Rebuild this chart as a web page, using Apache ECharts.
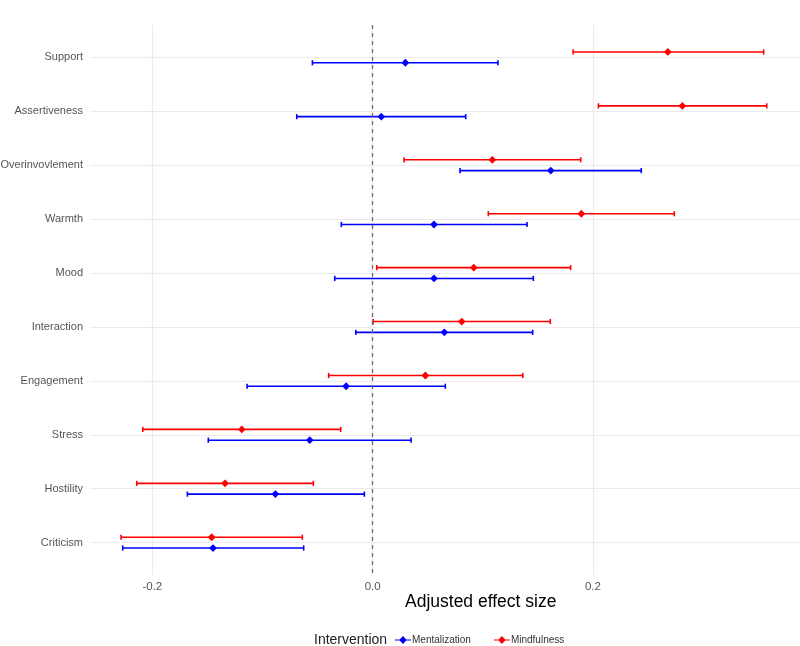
<!DOCTYPE html>
<html>
<head>
<meta charset="utf-8">
<script src="https://cdn.jsdelivr.net/npm/echarts@6/dist/echarts.min.js"></script>
<style>html,body{margin:0;padding:0;background:#fff;}#chart{width:800px;height:646px;}</style>
</head>
<body>
<div id="chart"></div>
<script>
// Outcomes, top to bottom
const categories = ['Support','Assertiveness','Overinvovlement','Warmth','Mood','Interaction','Engagement','Stress','Hostility','Criticism'];
// Mindfulness: lower, estimate, upper
const mindLower = [0.182, 0.205, 0.0285, 0.105, 0.0037, 0.0004, -0.0399, -0.2087, -0.2142, -0.2284];
const mindEst   = [0.268, 0.2812, 0.1087, 0.1895, 0.0918, 0.0809, 0.0479, -0.1188, -0.134, -0.1461];
const mindUpper = [0.355, 0.3578, 0.1889, 0.2739, 0.1798, 0.1613, 0.1363, -0.029, -0.0538, -0.0638];
// Mentalization: lower, estimate, upper
const mentLower = [-0.0547, -0.0689, 0.0793, -0.0284, -0.0344, -0.0153, -0.114, -0.1492, -0.1682, -0.2269];
const mentEst   = [0.0297, 0.0079, 0.1617, 0.0557, 0.0557, 0.0651, -0.0241, -0.0571, -0.0883, -0.1449];
const mentUpper = [0.1138, 0.0845, 0.2439, 0.1402, 0.1459, 0.1453, 0.066, 0.0349, -0.0075, -0.0626];
const xTicks = [-0.2, 0.0, 0.2];

const chart = echarts.init(document.getElementById('chart'));

function build(lo, est, hi) {
  return categories.map((c, i) => [i, lo[i], est[i], hi[i]]);
}
function makeRender(color, dodge) {
  return function (params, api) {
    const y = api.value(0) + dodge;
    const pLo = api.coord([api.value(1), y]);
    const pE = api.coord([api.value(2), y]);
    const pHi = api.coord([api.value(3), y]);
    const cap = 2.6, r = 3.9;
    const ls = { stroke: color, lineWidth: 1.6 };
    return {
      type: 'group',
      children: [
        { type: 'line', shape: { x1: pLo[0], y1: pLo[1], x2: pHi[0], y2: pHi[1] }, style: ls },
        { type: 'line', shape: { x1: pLo[0], y1: pLo[1] - cap, x2: pLo[0], y2: pLo[1] + cap }, style: ls },
        { type: 'line', shape: { x1: pHi[0], y1: pHi[1] - cap, x2: pHi[0], y2: pHi[1] + cap }, style: ls },
        { type: 'polygon', shape: { points: [[pE[0], pE[1] - r], [pE[0] + r, pE[1]], [pE[0], pE[1] + r], [pE[0] - r, pE[1]]] }, style: { fill: color } }
      ]
    };
  };
}
const iconPath = 'path://M0,4.3H5.3L9,0.6L12.7,4.3H18V5.7H12.7L9,9.4L5.3,5.7H0Z';

const option = {
  backgroundColor: '#ffffff',
  animation: false,
  grid: { left: 90, right: 0, top: 25, bottom: 71, containLabel: false, outerBoundsMode: 'none' },
  xAxis: {
    type: 'value',
    min: -0.2566,
    max: 0.388,
    minInterval: 0.2,
    maxInterval: 0.2,
    axisLine: { show: false },
    axisTick: { show: false },
    axisLabel: {
      color: '#555', fontSize: 11.5, margin: 6, fontFamily: 'Liberation Sans, Arial, sans-serif',
      showMinLabel: false, showMaxLabel: false,
      formatter: v => xTicks.some(t => Math.abs(t - v) < 1e-6) ? v.toFixed(1) : ''
    },
    splitLine: { show: true, showMinLine: false, showMaxLine: false, lineStyle: { color: '#ebebeb', width: 1.2 } }
  },
  yAxis: {
    type: 'value',
    inverse: true,
    min: -0.6,
    max: 9.6,
    minInterval: 1,
    maxInterval: 1,
    axisLine: { show: false },
    axisTick: { show: false },
    axisLabel: {
      color: '#555', fontSize: 11, margin: 7, fontFamily: 'Liberation Sans, Arial, sans-serif',
      showMinLabel: false, showMaxLabel: false,
      formatter: v => {
        const k = Math.round(v);
        return Math.abs(k - v) < 1e-6 && categories[k] ? categories[k] : '';
      }
    },
    splitLine: { show: true, showMinLine: false, showMaxLine: false, lineStyle: { color: '#ebebeb', width: 1.2 } }
  },
  legend: {
    left: 395, top: 635, padding: 0,
    itemWidth: 16, itemHeight: 9, itemGap: 23,
    textStyle: { fontSize: 10, color: '#333', fontFamily: 'Liberation Sans, Arial, sans-serif', padding: [0, 0, 0, -4] },
    data: [
      { name: 'Mentalization', icon: iconPath },
      { name: 'Mindfulness', icon: iconPath }
    ]
  },
  graphic: [
    { type: 'text', left: 405, top: 593, style: { text: 'Adjusted effect size', fontSize: 17.5, fill: '#000', fontFamily: 'Liberation Sans, Arial, sans-serif' } },
    { type: 'text', left: 314, top: 633, style: { text: 'Intervention', fontSize: 14, fill: '#222', fontFamily: 'Liberation Sans, Arial, sans-serif' } }
  ],
  series: [
    {
      name: 'Mentalization', type: 'custom', clip: false,
      itemStyle: { color: '#0000ff' },
      renderItem: makeRender('#0000ff', 0.1),
      encode: { x: [1, 2, 3], y: 0 },
      data: build(mentLower, mentEst, mentUpper),
      markLine: {
        silent: true, symbol: 'none', label: { show: false },
        lineStyle: { color: '#6e6e6e', type: [4, 4], width: 1.3 },
        data: [{ xAxis: 0 }]
      }
    },
    {
      name: 'Mindfulness', type: 'custom', clip: false,
      itemStyle: { color: '#ff0000' },
      renderItem: makeRender('#ff0000', -0.1),
      encode: { x: [1, 2, 3], y: 0 },
      data: build(mindLower, mindEst, mindUpper)
    }
  ]
};
chart.setOption(option);
</script>
</body>
</html>
